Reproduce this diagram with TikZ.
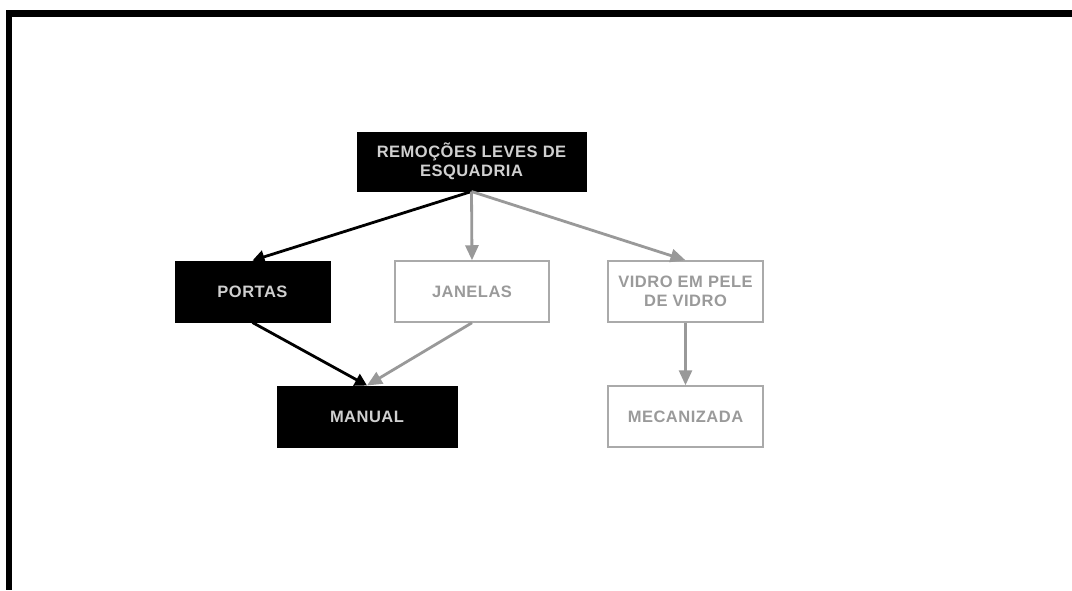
\documentclass[tikz,border=0pt]{standalone}
\usepackage{fontspec}
\newfontfamily\lab{Liberation Sans}[LetterSpace=3]
\usetikzlibrary{arrows.meta}
\definecolor{boxgray}{HTML}{AAAAAA}
\definecolor{txtgray}{HTML}{9A9A9A}
\definecolor{lightt}{HTML}{D0D0D0}
\definecolor{arrgray}{HTML}{999999}
\tikzset{
  darkbox/.style={draw=black, fill=black, line width=1pt, text=lightt, inner sep=0pt,
    minimum width=155pt, minimum height=61pt, align=center,
    font=\lab\bfseries\fontsize{16.5}{19}\selectfont},
  lightbox/.style={draw=boxgray, fill=white, line width=1.5pt, text=txtgray, inner sep=0pt,
    minimum width=155pt, minimum height=61pt, align=center,
    font=\lab\bfseries\fontsize{16.5}{19}\selectfont},
  blackarrow/.style={draw=black, line width=2.8pt, -{Triangle[length=12pt,width=13pt]}},
  grayarrow/.style={draw=arrgray, line width=2.8pt, -{Triangle[length=15pt,width=13pt]}},
  frameline/.style={draw=black}
}
\begin{document}
\begin{tikzpicture}[x=1pt,y=-1pt]
\useasboundingbox (0,0) rectangle (1072,590);
\fill[white] (0,0) rectangle (1072,590);
\coordinate (fa) at (6,13.5);
\coordinate (fb) at (1072,13.5);
\coordinate (fc) at (9,10);
\coordinate (fd) at (9,590);
\draw[frameline, line width=7pt] (fa) -- (fb);
\draw[frameline, line width=6pt] (fc) -- (fd);

\node[darkbox, minimum width=229pt, minimum height=59pt] (top) at (471.5,161.5) {REMOÇÕES LEVES DE\\ESQUADRIA};
\node[darkbox] (portas) at (252.5,291.5) {PORTAS};
\node[lightbox, minimum width=154pt] (janelas) at (472,291.5) {JANELAS};
\node[lightbox] (vidro) at (685.5,291.5) {VIDRO EM PELE\\DE VIDRO};
\node[darkbox, minimum width=180pt] (manual) at (367,416.5) {MANUAL};
\node[lightbox] (meca) at (685.5,416.5) {MECANIZADA};

\draw[blackarrow] (top.south) -- (portas.north);
\draw[grayarrow] (top.south) -- (janelas.north);
\draw[grayarrow] (top.south) -- (vidro.north);
\draw[blackarrow] (portas.south) -- (manual.north);
\draw[grayarrow] (janelas.south) -- (manual.north);
\draw[grayarrow] (vidro.south) -- (meca.north);
\end{tikzpicture}
\end{document}
